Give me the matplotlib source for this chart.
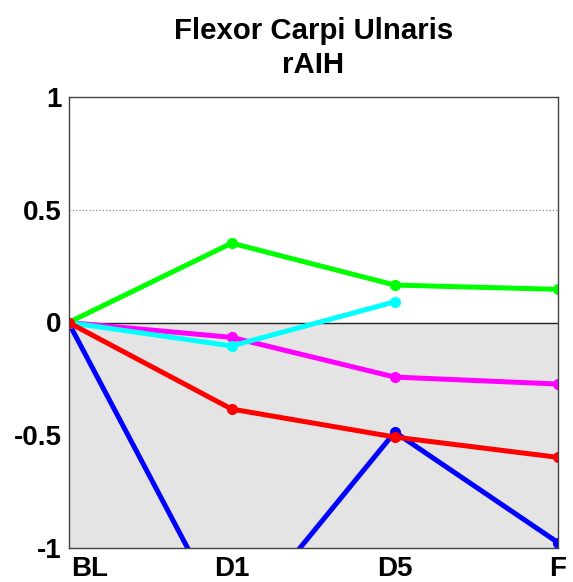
import matplotlib
matplotlib.use("Agg")
import matplotlib.pyplot as plt
import matplotlib.transforms as mtransforms

plt.rcParams['font.family'] = ['Liberation Sans', 'DejaVu Sans']

sessions = ["BL", "D1", "D5", "F"]
x_pos = [1, 2, 3, 4]

blue_vals = [0.0, -1.37, -0.486, -0.976]
magenta_vals = [0.0, -0.066, -0.242, -0.273]
cyan_vals = [0.0, -0.104, 0.092]
green_vals = [0.0, 0.352, 0.166, 0.147]
red_vals = [0.0, -0.384, -0.508, -0.598]

y_ticks = [-1, -0.5, 0, 0.5, 1]
y_tick_labels = ["-1", "-0.5", "0", "0.5", "1"]

fig = plt.figure(figsize=(5.73, 5.82), dpi=100)
ax = fig.add_axes([68.5 / 573, 34 / 582, 489.5 / 573, 451 / 582])

ax.set_xlim(1, 4)
ax.set_ylim(-1, 1)

# shaded region below zero, reference lines
ax.axhspan(-1, 0, color='#e4e4e4', zorder=0, lw=0)
ax.axhline(0, color='#222222', lw=1.0, zorder=1)
ax.axhline(0.5, color='#777777', lw=0.8, ls=(0, (1, 2)), zorder=1)

series = [
    (blue_vals, '#0000ff'),
    (magenta_vals, '#ff00ff'),
    (cyan_vals, '#00ffff'),
    (green_vals, '#00ff00'),
    (red_vals, '#ff0000'),
]
for vals, col in series:
    ax.plot(x_pos[:len(vals)], vals, color=col, lw=3.6, marker='o',
            markersize=7, solid_capstyle='round', zorder=3)

ax.set_xticks(x_pos)
ax.set_xticklabels(sessions, fontsize=20, fontweight='bold')
ax.set_yticks(y_ticks)
ax.set_yticklabels(y_tick_labels, fontsize=20, fontweight='bold')
ax.tick_params(axis='both', length=0)
ax.tick_params(axis='x', pad=6)
ax.tick_params(axis='y', pad=5)

# first session label sits slightly right of its tick
lbl = ax.get_xticklabels()[0]
lbl.set_transform(lbl.get_transform() + mtransforms.ScaledTranslation(21 / 100, 0, fig.dpi_scale_trans))

for sp in ax.spines.values():
    sp.set_color('#444444')
    sp.set_linewidth(1.0)
    sp.set_zorder(4)

ax.set_title("Flexor Carpi Ulnaris\nrAIH", fontsize=21.2, fontweight='bold',
             pad=17, linespacing=1.3)

fig.savefig("out.png", dpi=100)
